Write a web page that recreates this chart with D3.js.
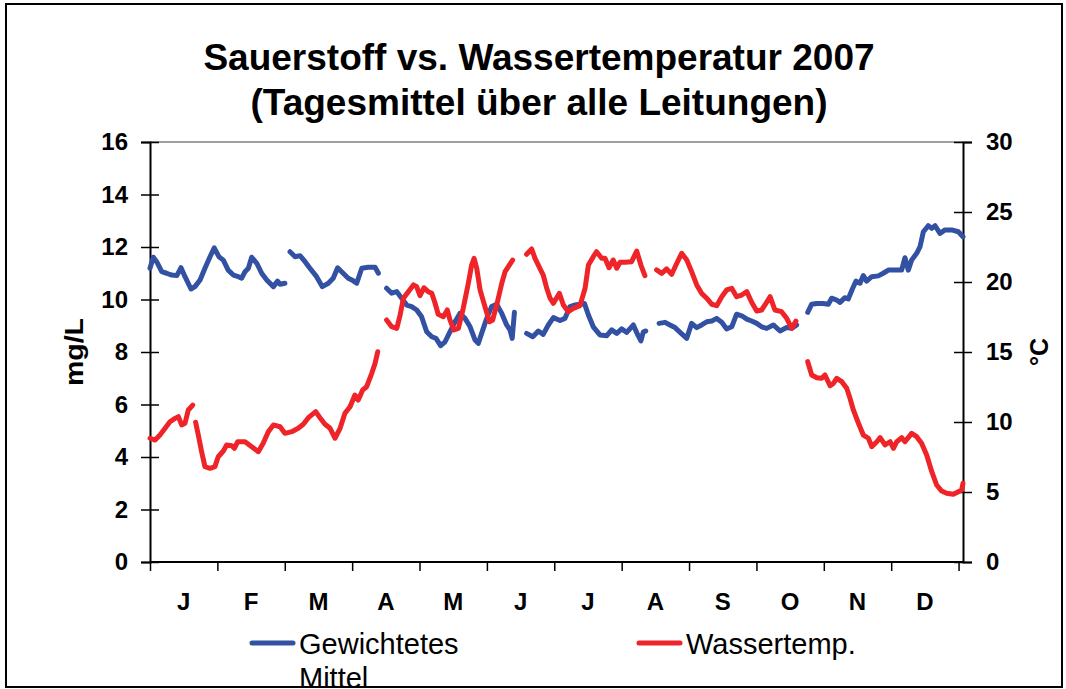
<!DOCTYPE html>
<html><head><meta charset="utf-8">
<script src="https://cdn.jsdelivr.net/npm/d3@7"></script>
<style>body{margin:0;background:#fff}svg{display:block}text{font-family:"Liberation Sans",Arial,sans-serif}</style>
</head><body><svg id="c" width="1066" height="689"></svg>
<script>
// ---- data ----
const titleLines = ["Sauerstoff vs. Wassertemperatur 2007", "(Tagesmittel über alle Leitungen)"];
const months = ["J","F","M","A","M","J","J","A","S","O","N","D"];
const leftTicks = [0,2,4,6,8,10,12,14,16];
const rightTicks = [0,5,10,15,20,25,30];
const seriesNames = ["Gewichtetes Mittel", "Wassertemp."];
// day of year (null = gap)
const oxygenDays = [0,1.5,3.0,5.3,7.5,9.8,12.1,14.0,15.8,18.5,20.3,22.6,24.8,27.1,29.0,31.1,33.1,35.3,37.6,39.9,41.4,42.9,44.4,45.9,48.2,50.4,52.7,55.7,57.6,58.7,60.9,null,
63.2,65.5,67.7,70.0,72.2,75.2,77.8,80.5,82.7,84.7,86.5,89.5,91.6,93.3,95.6,98.5,101.6,103.1,null,
106.8,109.1,111.4,113.6,115.9,118.1,120.4,122.6,124.9,127.2,129.1,131.2,133.2,135.4,137.7,139.9,142.2,144.5,146.7,148.2,149.7,152.0,154.2,156.5,158.8,161.0,162.5,163.5,164.5,null,
170.0,172.8,175.3,177.5,179.8,182.1,185.1,187.3,189.6,191.9,194.1,196.1,197.9,200.1,203.1,206.2,208.4,210.7,212.9,215.2,218.2,220.2,221.6,222.7,223.8,null,
229.8,232.5,234.7,237.0,239.3,242.3,244.5,246.8,249.0,251.3,253.6,255.8,258.1,260.3,262.6,264.8,267.1,269.4,271.6,273.9,276.1,278.4,281.4,284.4,287.4,289.7,291.9,null,
296.9,298.7,301.0,303.9,306.2,307.7,310.0,311.5,313.7,315.2,317.2,318.7,320.5,322.0,323.5,325.8,328.8,331.0,333.3,336.3,339.3,340.8,342.3,343.8,346.1,347.6,349.1,351.3,352.9,354.4,356.6,358.9,361.9,364.9,367];
const oxygenValues = [11.19,11.61,11.44,11.06,11.00,10.93,10.91,11.21,10.87,10.40,10.49,10.74,11.19,11.63,11.97,11.63,11.50,11.12,10.93,10.87,10.81,11.06,11.19,11.61,11.38,11.00,10.74,10.49,10.70,10.58,10.62,null,
11.82,11.63,11.67,11.44,11.19,10.87,10.49,10.62,10.81,11.21,11.06,10.81,10.72,10.62,11.19,11.23,11.23,11.00,null,
10.43,10.24,10.30,10.05,9.79,9.73,9.60,9.34,8.77,8.58,8.52,8.24,8.39,8.77,9.15,9.47,9.28,8.96,8.46,8.33,8.71,9.28,9.73,9.82,9.47,9.03,8.84,8.52,9.51,null,
8.71,8.58,8.80,8.67,9.03,9.31,9.20,9.28,9.73,9.79,9.82,9.85,9.41,8.96,8.65,8.62,8.84,8.71,8.88,8.75,9.03,8.65,8.42,8.77,8.80,null,
9.09,9.13,9.03,8.93,8.75,8.52,9.09,8.93,9.03,9.15,9.18,9.28,9.13,8.88,8.96,9.44,9.38,9.25,9.18,9.09,8.96,8.90,9.03,8.80,8.93,8.90,9.03,null,
9.51,9.82,9.85,9.85,9.82,10.05,9.98,9.89,10.07,10.02,10.43,10.70,10.62,10.91,10.70,10.87,10.90,11.00,11.12,11.12,11.12,11.59,11.12,11.50,11.76,12.01,12.58,12.81,12.71,12.81,12.52,12.65,12.65,12.58,12.39];
const tempDays = [0,2.3,4.5,6.8,9.0,11.3,12.8,14.3,15.8,17.3,19.3,null,
20.6,21.8,23.3,24.8,27.1,29.3,30.8,33.1,34.6,36.9,38.1,39.6,42.9,45.9,48.9,51.1,53.4,55.7,58.7,60.9,64.0,66.9,69.2,71.5,74.8,76.7,79.0,81.3,83.5,85.8,88.0,90.3,92.5,94.0,96.0,97.8,100.1,101.6,102.8,null,
106.8,109.1,111.4,112.9,114.4,116.6,118.9,120.4,121.9,123.7,125.6,127.2,128.7,130.1,132.4,134.2,135.4,137.2,139.2,141.4,143.7,145.2,146.3,147.5,149.0,151.2,153.2,154.7,156.5,158.8,160.3,162.2,163.7,null,
170.0,172.3,173.8,176.0,177.5,179.1,180.6,182.1,184.8,186.6,188.8,191.1,194.1,196.4,197.9,200.1,201.6,203.9,205.4,207.2,209.1,210.7,212.2,214.4,217.4,219.7,221.6,223.4,null,
228.7,231.0,233.2,235.5,237.8,240.0,242.3,244.5,246.8,249.0,251.3,253.6,255.8,258.1,260.3,262.6,264.8,267.1,269.4,271.6,273.9,276.1,277.6,279.9,282.1,285.1,287.4,289.7,291.6,null,
296.9,298.7,301.0,303.2,304.7,307.0,308.5,310.0,312.3,314.5,316.0,317.5,319.8,322.0,324.3,325.8,328.1,329.6,331.8,334.1,335.6,337.1,339.3,340.8,343.8,346.1,348.3,350.6,352.9,355.1,357.4,359.6,362.6,364.9,366.4,367];
const tempValues = [8.84,8.71,9.07,9.55,10.02,10.26,10.38,9.79,9.91,10.86,11.21,null,
9.98,9.07,7.88,6.81,6.69,6.81,7.52,7.93,8.36,8.31,8.12,8.59,8.59,8.24,7.88,8.48,9.31,9.79,9.66,9.19,9.31,9.55,9.84,10.31,10.74,10.31,9.84,9.55,8.84,9.55,10.62,11.09,11.93,11.57,12.29,12.52,13.48,14.19,15.02,null,
17.29,16.81,16.69,17.64,18.84,19.31,19.79,19.66,19.02,19.59,19.31,19.19,18.48,17.69,17.52,18.00,17.29,16.57,16.69,18.12,19.91,21.21,21.69,20.98,19.43,18.24,17.16,17.29,18.36,19.91,20.74,21.21,21.57,null,
21.98,22.36,21.69,20.98,20.50,19.55,18.84,18.48,19.19,18.36,17.88,18.12,18.31,19.55,21.21,21.81,22.16,21.69,21.69,21.02,21.57,20.98,21.41,21.41,21.45,22.21,21.21,20.45,null,
20.86,20.62,20.93,20.55,21.34,22.05,21.57,20.74,19.79,19.19,18.84,18.41,18.31,18.95,19.43,19.55,18.95,19.07,19.31,18.55,17.93,18.00,18.36,18.95,18.00,17.88,17.41,16.69,17.21,null,
14.31,13.36,13.16,13.12,13.36,12.59,12.76,13.12,12.88,12.41,11.69,10.86,9.91,9.07,8.84,8.24,8.59,8.88,8.36,8.59,8.12,8.59,8.88,8.59,9.19,8.95,8.48,7.64,6.45,5.50,5.07,4.91,4.84,5.02,5.14,5.62];

// ---- layout ----
const svg = d3.select("#c");
const L = 150, R = 963, T = 142, B = 562;
const blue = "#3351a3", red = "#ee2428";
const x = d3.scaleLinear().domain([0, 367]).range([L, R]);
const yL = d3.scaleLinear().domain([0, 16]).range([B, T]);
const yR = d3.scaleLinear().domain([0, 30]).range([B, T]);

svg.append("clipPath").attr("id","outer").append("rect").attr("x",7).attr("y",5).attr("width",1054).attr("height",681);
const g = svg.append("g").attr("clip-path","url(#outer)");

// title
g.selectAll("text.title").data(titleLines).join("text").attr("class","title")
  .attr("x", 539).attr("y", (d,i)=> 70 + i*45).attr("text-anchor","middle")
  .attr("font-size", 37).attr("font-weight","bold").text(d=>d);

// plot frame top
g.append("line").attr("x1",L).attr("x2",R).attr("y1",T).attr("y2",T).attr("stroke","#808080").attr("stroke-width",1.5);

// left axis
const axL = g.append("g").attr("transform",`translate(${L},0)`)
  .call(d3.axisLeft(yL).tickValues(leftTicks).tickSize(9).tickPadding(13));
axL.selectAll("line").attr("x1",9).attr("x2",-9);
// right axis
const axR = g.append("g").attr("transform",`translate(${R},0)`)
  .call(d3.axisRight(yR).tickValues(rightTicks).tickSize(9).tickPadding(14));
axR.selectAll("line").attr("x1",-9).attr("x2",9);
// bottom axis
const monthTicks = d3.range(13).map(i => i*365/12);
const axB = g.append("g").attr("transform",`translate(0,${B})`)
  .call(d3.axisBottom(x).tickValues(monthTicks).tickSize(9).tickFormat(""));
axB.select(".domain").attr("d", `M${L},0H${R}`);
[axL, axR, axB].forEach(a => {
  a.select(".domain").attr("stroke","#000").attr("stroke-width",2);
  a.selectAll(".tick line").attr("stroke","#000").attr("stroke-width",1.5);
  a.selectAll("text").attr("font-size",24).attr("font-weight","bold").attr("fill","#000")
    .attr("font-family",'"Liberation Sans",Arial,sans-serif');
});
// month labels
g.selectAll("text.month").data(months).join("text").attr("class","month")
  .attr("x",(d,i)=> x((i+0.5)*365/12)).attr("y", 610).attr("text-anchor","middle")
  .attr("font-size",24).attr("font-weight","bold").text(d=>d);

// axis titles
g.append("text").attr("transform","translate(83,352) rotate(-90)").attr("text-anchor","middle")
  .attr("font-size",25).attr("font-weight","bold").attr("textLength",68).attr("lengthAdjust","spacingAndGlyphs").text("mg/L");
g.append("text").attr("transform","translate(1048,352) rotate(-90)").attr("text-anchor","middle")
  .attr("font-size",25).attr("font-weight","bold").text("°C");

// series
const oxy = oxygenDays.map((d,i)=>({d, v: oxygenValues[i]}));
const tmp = tempDays.map((d,i)=>({d, v: tempValues[i]}));
const lineO = d3.line().defined(p=>p.v!==null).x(p=>x(p.d)).y(p=>yL(p.v));
const lineT = d3.line().defined(p=>p.v!==null).x(p=>x(p.d)).y(p=>yR(p.v));
g.append("path").attr("d", lineO(oxy)).attr("fill","none").attr("stroke",blue).attr("stroke-width",5)
  .attr("stroke-linejoin","round").attr("stroke-linecap","round");
g.append("path").attr("d", lineT(tmp)).attr("fill","none").attr("stroke",red).attr("stroke-width",5)
  .attr("stroke-linejoin","round").attr("stroke-linecap","round");

// legend
const leg = [{name:["Gewichtetes","Mittel"], c:blue, x:252},{name:["Wassertemp."], c:red, x:639}];
leg.forEach(l=>{
  g.append("line").attr("x1",l.x).attr("x2",l.x+41).attr("y1",643).attr("y2",643)
    .attr("stroke",l.c).attr("stroke-width",5).attr("stroke-linecap","round");
  l.name.forEach((t,i)=> g.append("text").attr("x",l.x+47).attr("y",654+i*34).attr("font-size",29).text(t));
});

// outer border
svg.append("rect").attr("x",6).attr("y",4).attr("width",1056).attr("height",683)
  .attr("fill","none").attr("stroke","#000").attr("stroke-width",2);
</script></body></html>
